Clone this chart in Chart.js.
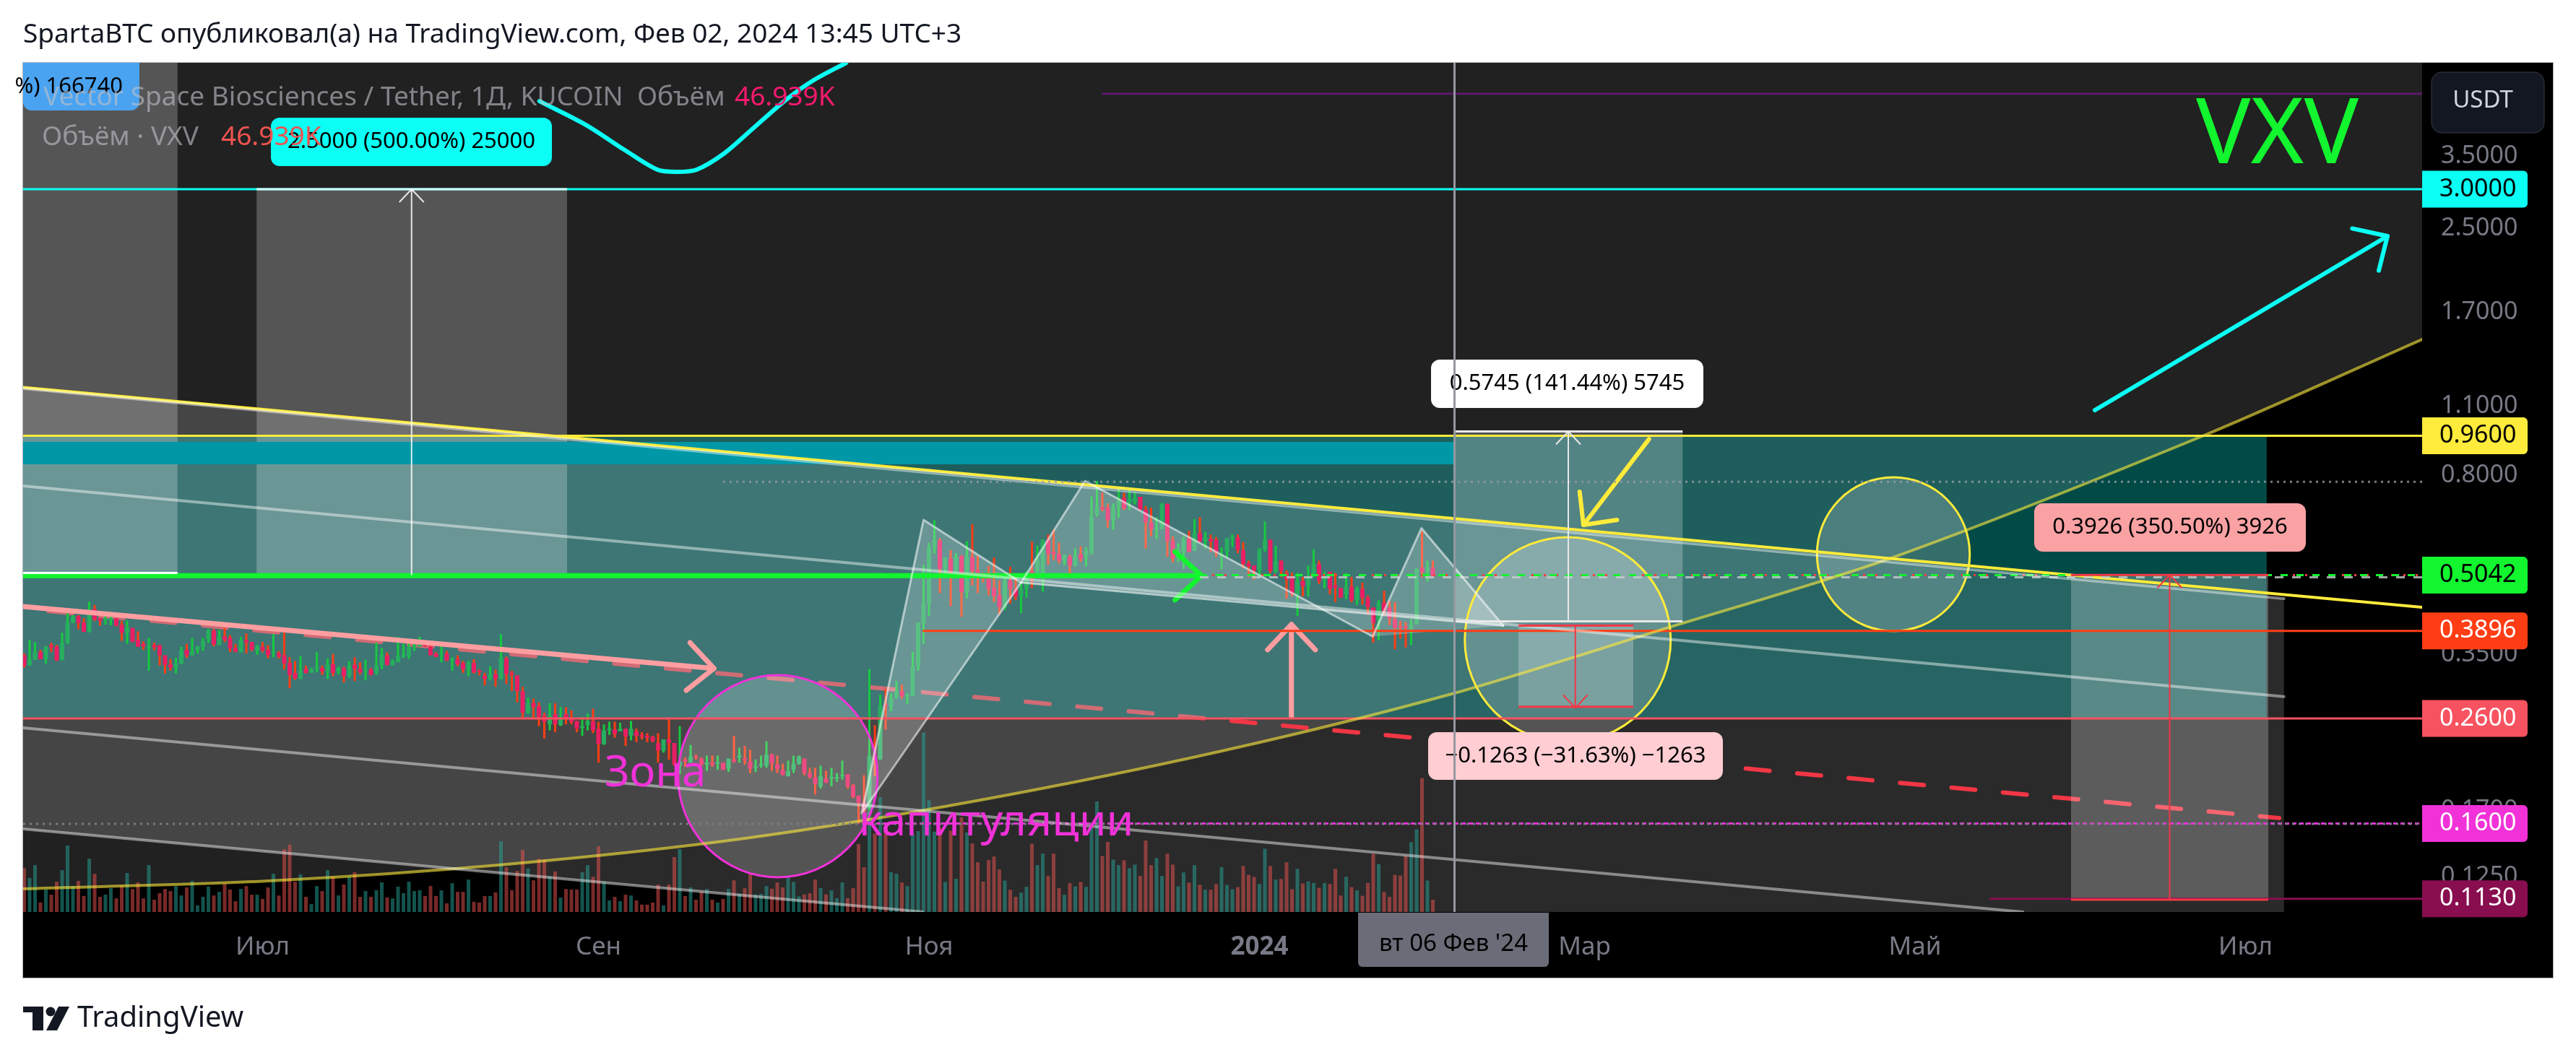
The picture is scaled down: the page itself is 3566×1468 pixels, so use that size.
<!DOCTYPE html>
<html>
<head>
<meta charset="utf-8">
<title>VXV</title>
<script src="https://cdn.jsdelivr.net/npm/chart.js@4"></script>
<style>
  html, body { margin: 0; padding: 0; background: #fff; }
  canvas { display: block; }
</style>
</head>
<body>
<canvas id="chart" width="3566" height="1468"></canvas>
<script>
// Candles, one per day, day 0 = 1 Jul 2023
var firstDay = -44;
var wickHigh = [
  .351,.374,.370,.357,.363,.369,.365,.386,.423,.419,.419,.413,.446,.439,.414,.419,.425,.414,.408,.409,.395,.389,.371,.377,.369,.365,.348,.342,.344,.362,.367,.377,.363,.377,.393,.393,.391,.395,.382,.367,.379,.385,.370,.365,.370,
  .365,.384,.355,.388,.345,.339,.347,.332,.328,.353,.332,.343,.350,.330,.330,.339,.345,.337,.341,.328,.369,.360,.353,.341,.379,.367,.369,.374,.379,.373,.365,.353,.369,.355,.345,.348,.339,.339,.342,.326,.321,.331,.326,.384,
  .346,.324,.317,.301,.286,.285,.280,.267,.279,.279,.274,.274,.270,.257,.262,.266,.272,.256,.253,.256,.256,.255,.248,.257,.248,.244,.243,.240,.243,.236,.259,.232,.251,.217,.230,.220,.217,.219,.219,.219,.212,.216,.240,.227,.229,
  .225,.215,.219,.234,.221,.219,.211,.214,.219,.219,.216,.207,.207,.209,.204,.207,.202,.214,.201,.192,.182,.200,.327,.252,.290,.298,.292,.309,.304,.292,.354,.405,.529,.585,.650,.598,.547,.566,.558,.553,.590,.638,.551,
  .510,.526,.547,.492,.497,.524,.509,.490,.513,.588,.578,.595,.608,.623,.586,.555,.554,.570,.576,.573,.725,.779,.738,.702,.702,.758,.738,.752,.738,.724,.694,.689,.659,.704,.701,.603,.584,.603,.619,.653,.659,.616,.608,.601,.573,
  .598,.608,.608,.587,.539,.527,.571,.646,.594,.577,.540,.515,.510,.509,.500,.527,.568,.539,.512,.512,.509,.475,.509,.500,.478,.487,.459,.434,.449,.469,.448,.445,.408,.406,.411,.521,.617,.539,.539
];
var bodyHigh = [
  .348,.341,.353,.353,.363,.365,.362,.369,.405,.417,.417,.405,.429,.431,.413,.413,.413,.413,.401,.395,.395,.374,.367,.364,.365,.365,.348,.334,.336,.357,.357,.354,.363,.372,.390,.390,.379,.380,.377,.360,.374,.373,.370,.362,.362,
  .357,.353,.352,.348,.336,.321,.324,.327,.327,.330,.328,.334,.334,.328,.328,.332,.333,.327,.325,.326,.332,.349,.348,.339,.347,.349,.362,.365,.369,.369,.362,.351,.351,.351,.342,.342,.336,.336,.336,.324,.317,.319,.319,.344,
  .343,.321,.317,.295,.279,.279,.275,.263,.263,.265,.262,.265,.260,.257,.251,.257,.257,.248,.246,.248,.247,.248,.248,.248,.245,.241,.240,.239,.232,.236,.236,.232,.213,.215,.218,.218,.216,.212,.212,.212,.212,.216,.215,.219,.216,
  .213,.208,.210,.220,.220,.210,.205,.204,.211,.218,.216,.202,.198,.199,.197,.198,.198,.200,.201,.191,.182,.176,.219,.218,.276,.277,.285,.295,.295,.289,.331,.405,.442,.573,.593,.592,.547,.544,.549,.551,.549,.548,.517,
  .505,.497,.475,.460,.490,.492,.472,.473,.510,.513,.544,.594,.594,.562,.556,.554,.549,.551,.555,.565,.661,.691,.691,.689,.691,.713,.720,.718,.720,.724,.682,.643,.627,.701,.701,.592,.567,.595,.597,.612,.612,.600,.596,.594,.550,
  .598,.603,.600,.566,.533,.527,.569,.594,.594,.538,.539,.509,.499,.491,.491,.500,.531,.530,.506,.512,.481,.475,.478,.478,.473,.473,.455,.434,.444,.444,.434,.411,.398,.398,.401,.519,.522,.522,.522
];
var bodyLow = [
  .332,.332,.341,.342,.342,.361,.340,.341,.369,.404,.404,.388,.389,.411,.408,.410,.410,.399,.386,.386,.370,.362,.363,.361,.361,.348,.333,.329,.329,.335,.348,.348,.356,.362,.375,.366,.365,.374,.359,.354,.353,.369,.357,.356,.356,
  .348,.351,.346,.335,.318,.313,.312,.321,.321,.327,.323,.323,.321,.323,.316,.316,.327,.322,.323,.318,.320,.332,.333,.333,.337,.345,.347,.362,.363,.363,.348,.346,.349,.340,.340,.334,.326,.326,.322,.322,.312,.312,.312,.312,
  .319,.318,.295,.267,.267,.274,.262,.256,.253,.253,.252,.260,.256,.248,.249,.252,.246,.231,.231,.246,.242,.245,.239,.240,.240,.239,.238,.234,.224,.224,.232,.210,.209,.213,.212,.217,.210,.210,.210,.211,.205,.206,.213,.217,.214,
  .206,.207,.209,.209,.211,.206,.200,.199,.205,.211,.202,.198,.192,.190,.193,.197,.197,.199,.190,.181,.176,.170,.171,.215,.215,.275,.275,.286,.288,.288,.288,.330,.403,.442,.575,.519,.518,.512,.512,.466,.466,.514,.508,
  .498,.473,.458,.435,.434,.473,.457,.457,.473,.495,.510,.506,.556,.555,.539,.539,.527,.527,.543,.549,.559,.668,.684,.650,.650,.691,.687,.705,.707,.682,.643,.623,.623,.623,.590,.545,.545,.561,.562,.564,.589,.589,.589,.561,.547,
  .562,.597,.566,.531,.525,.515,.515,.567,.514,.512,.514,.494,.463,.461,.479,.479,.502,.491,.491,.473,.476,.455,.461,.449,.449,.454,.435,.404,.409,.427,.413,.395,.396,.395,.391,.401,.512,.514,.502
];
var wickLow = [
  .329,.332,.341,.342,.335,.353,.339,.340,.367,.404,.393,.388,.387,.408,.399,.401,.400,.398,.372,.367,.370,.362,.357,.324,.356,.332,.320,.324,.320,.334,.344,.348,.351,.355,.369,.363,.365,.370,.353,.353,.353,.351,.355,.349,.353,
  .343,.345,.343,.326,.299,.311,.312,.320,.321,.322,.318,.312,.316,.319,.307,.314,.309,.319,.310,.317,.318,.327,.332,.332,.337,.344,.342,.355,.362,.362,.348,.345,.337,.339,.324,.331,.321,.316,.320,.317,.303,.310,.301,.311,
  .305,.295,.280,.261,.266,.260,.251,.237,.246,.244,.251,.253,.253,.244,.240,.246,.243,.212,.230,.241,.238,.245,.229,.235,.233,.236,.233,.233,.212,.222,.215,.209,.201,.208,.212,.215,.209,.204,.208,.205,.205,.203,.212,.212,.210,
  .202,.203,.207,.207,.204,.202,.200,.199,.202,.210,.200,.197,.183,.188,.193,.190,.194,.196,.188,.180,.160,.168,.170,.199,.215,.247,.269,.285,.285,.278,.288,.324,.367,.418,.557,.464,.509,.437,.509,.416,.453,.481,.464,
  .487,.459,.445,.420,.429,.442,.449,.423,.454,.475,.506,.467,.529,.540,.532,.528,.506,.525,.536,.525,.555,.661,.677,.628,.621,.657,.682,.681,.699,.681,.570,.603,.595,.623,.549,.535,.535,.519,.561,.564,.587,.570,.561,.549,.518,
  .546,.574,.558,.521,.500,.494,.502,.562,.509,.509,.500,.452,.457,.417,.457,.457,.499,.484,.474,.461,.445,.454,.451,.445,.440,.440,.420,.369,.373,.419,.400,.358,.376,.361,.365,.401,.499,.489,.500
];
// G = closed up, R = closed down
var candleSides =
  "RGGRGRRGGGRRGRRGGRRGRRRGRRRRGGRGGGGRGRRRGRRGR" +
  "RGRRRRGRGGRGRGRGRRGRGGRGGGGGGRRRGRGRRGRRRGRG" +
  "RRRRGRRRGRGRRRGGRRGGRGRGRRRRRGRRGRGRRGRGRGRGR" +
  "RGGGRRRGGGRRRGRGGGRRRRGRGRGGRGGGGGGRGRGRGRR" +
  "RRRRGRRGGRGGRRRGRGRGGGRRGGRGGRRRGGRRGGRGRGRRG" +
  "GGRRRRGGRGRRRGRGGRGRRRGRGRRRGRRRRRGGRGR";
// Volume in thousands
var volumes = [
  168,130,179,36,86,66,116,160,254,99,119,61,204,146,58,66,91,52,99,149,88,113,52,179,47,72,88,80,99,63,94,119,25,58,97,63,77,108,86,41,88,99,66,66,50,
  94,146,63,240,257,116,144,58,30,99,80,160,135,63,105,135,152,58,80,58,83,113,55,52,97,72,116,80,83,61,99,61,83,33,110,77,77,124,39,36,61,61,75,270,
  171,83,157,237,166,121,204,201,135,155,55,88,86,86,152,179,135,251,116,44,58,41,66,63,44,28,28,36,105,25,105,210,240,61,94,47,77,88,47,36,50,88,121,69,91,
  145,67,69,99,89,113,94,133,115,60,67,72,124,91,67,83,53,113,53,91,260,171,385,300,439,320,152,146,113,99,298,309,686,427,307,321,115,311,127,362,304,262,190,
  116,198,212,162,120,85,58,74,96,261,179,223,138,223,91,66,110,98,115,96,322,422,214,268,200,179,198,167,181,138,273,179,206,138,223,181,98,151,112,179,104,85,85,106,171,
  103,87,95,176,142,134,107,242,176,124,126,190,87,165,109,117,111,92,111,107,165,63,135,95,83,62,111,222,183,76,58,142,139,214,267,316,512,120,46.9
];

// Axes
var priceTicks = [3.5, 2.5, 1.7, 1.1, 0.8, 0.35, 0.17, 0.125];
var monthDays = [0, 62, 123, 184, 244, 305, 366];
var monthLabels = ["Июл", "Сен", "Ноя", "2024", "Мар", "Май", "Июл"];
var priceLevels = [3, 0.96, 0.5042, 0.3896, 0.26, 0.16, 0.113];
var priceLevelLabels = ["3.0000", "0.9600", "0.5042", "0.3896", "0.2600", "0.1600", "0.1130"];

// Drawn lines, [day...] and [price...]
var yellowTopDays = [-44.2, 398.6],   yellowTopPrices = [1.2005, 0.4347];
var channelTopDays = [-44.2, 373.1],  channelTopPrices = [1.1945, 0.4524];
var channelADays = [-44.2, 373.1],    channelAPrices = [0.7612, 0.2875];
var channelBDays = [-44.2, 324.9],    channelBPrices = [0.2490, 0.1063];
var channelCDays = [-44.2, 121.8],    channelCPrices = [0.1560, 0.1063];
var dashedDays = [-44.2, 372.2],      dashedPrices = [0.4317, 0.1641];
var curveDays = [-44.2, 1.1, 45.1, 89.1, 131.8, 177.1, 219.5, 258.2, 300.9, 358.2, 398.6];
var curvePrices = [0.1183, 0.1227, 0.1325, 0.1494, 0.1777, 0.2237, 0.2912, 0.3918, 0.5471, 0.96, 1.4988];
var brushDays = [51.1, 59.7, 66.9, 72.9, 76.5, 80.1, 85.1, 90.2, 96.3, 101.5, 107.7];
var brushPrices = [4.507, 4.037, 3.592, 3.283, 3.25, 3.283, 3.533, 3.944, 4.507, 4.949, 5.38];

// Head and shoulders points: X A B C D E F, and the foot under D
var patternDays = [110.6, 122, 140, 151.8, 204.9, 213.9, 229];
var patternPrices = [0.1679, 0.6507, 0.4872, 0.7793, 0.3797, 0.6264, 0.3991];
var patternFootPrice = 0.4246;

// Price range tools: left day, right day, top price, bottom price, arrow day
var rangeLeft = [-44.2, -1.1, 219.9, 231.8, 333.8];
var rangeRight = [-15.7, 56.2, 262.1, 253, 370.2];
var rangeTop = [5.38, 3, 0.9795, 0.3993, 0.5046];
var rangeBottom = [0.5068, 0.5042, 0.4052, 0.2730, 0.112];
var rangeArrow = [null, 27.5, 241, 242.3, 352];
var rangeLabels = ["%) 166740", "2.5000 (500.00%) 25000", "0.5745 (141.44%) 5745", "−0.1263 (−31.63%) −1263", "0.3926 (350.50%) 3926"];

// Ellipses: left day, right day, top price, bottom price
var ellipseLeft = [76.7, 221.9, 286.9];
var ellipseRight = [113.5, 259.9, 315.1];
var ellipseTop = [0.3176, 0.6007, 0.7924];
var ellipseBottom = [0.1248, 0.2329, 0.3893];

var crosshairDay = 220;
var fontName = '"Noto Sans"';

var candleDays = wickHigh.map(function (v, i) { return firstDay + i; });
var isUp = function (i) { return candleSides.charAt(i) === "G"; };

function barSet(yId, values, color, thickness, order) {
  return {
    type: "bar",
    data: values.map(function (v, i) { return { x: candleDays[i], y: v }; }),
    backgroundColor: candleDays.map(function (d, i) { return isUp(i) ? color[0] : color[1]; }),
    barThickness: thickness,
    grouped: false,
    borderWidth: 0,
    minBarLength: 2,
    inflateAmount: 0,
    order: order,
    yAxisID: yId
  };
}

function lineSet(days, prices, color, width, dash) {
  return {
    type: "line",
    data: days.map(function (d, i) { return { x: d, y: prices[i] }; }),
    borderColor: color,
    borderWidth: width,
    borderDash: dash || [],
    borderCapStyle: dash ? "butt" : "round",
    borderJoinStyle: "round",
    pointRadius: 0,
    tension: 0,
    order: 1,
    yAxisID: "y"
  };
}

function levelSet(fromDay, price, color, width, dash) {
  return lineSet([fromDay, 398.6], [price, price], color, width, dash);
}

var curveSet = lineSet(curveDays, curvePrices, "rgba(255,235,59,.6)", 4);
curveSet.tension = 0.3;

var datasets = [
  barSet("vol", volumes, ["rgba(38,166,154,.5)", "rgba(239,83,80,.5)"], 5, 5),
  barSet("y", wickHigh.map(function (v, i) { return [wickLow[i], v]; }), ["#17c93f", "#ff3d14"], 3, 4),
  barSet("y", bodyHigh.map(function (v, i) { return [bodyLow[i], v]; }), ["#27ae5f", "#e91e63"], 6, 3),

  // dotted levels
  lineSet([-44.2, 398.6], [0.1597, 0.1597], "#787b86", 3, [3, 6]),
  lineSet([85, 398.6], [0.7763, 0.7763], "rgba(150,155,165,.8)", 3, [3, 6]),
  lineSet([155, 398.6], [4.665, 4.665], "#5b1a6b", 3),

  // channel
  lineSet(channelTopDays, channelTopPrices, "rgba(255,255,255,.45)", 4),
  lineSet(channelADays, channelAPrices, "rgba(255,255,255,.45)", 4),
  lineSet(channelBDays, channelBPrices, "rgba(255,255,255,.45)", 4),
  lineSet(channelCDays, channelCPrices, "rgba(255,255,255,.45)", 4),
  curveSet,

  // head and shoulders edges
  lineSet([patternDays[0], patternDays[1], patternDays[2], patternDays[0]], [patternPrices[0], patternPrices[1], patternPrices[2], patternPrices[0]], "rgba(255,255,255,.55)", 3),
  lineSet(patternDays.slice(2), patternPrices.slice(2), "rgba(255,255,255,.55)", 3),
  lineSet([patternDays[2], patternDays[6]], [patternPrices[2], patternPrices[6]], "rgba(255,255,255,.6)", 3),

  // levels
  levelSet(-44.2, priceLevels[0], "#0cfff4", 3),
  levelSet(-44.2, priceLevels[1], "#ffeb3b", 3),
  lineSet([173, 398.6], [0.4992, 0.4992], "rgba(200,205,210,.8)", 3, [12, 12]),
  levelSet(173, priceLevels[2], "#12f52f", 3, [10, 12]),
  levelSet(173, priceLevels[2], "#ff3d3d", 3, [3, 14]),
  levelSet(122, priceLevels[3], "#ff3d14", 3),
  levelSet(-44.2, priceLevels[4], "#f7525f", 3),
  levelSet(110.6, priceLevels[5], "#f032d8", 3, [6, 4]),
  levelSet(318.9, priceLevels[6], "#880e4f", 3),
  lineSet(yellowTopDays, yellowTopPrices, "#ffeb3b", 4),

  // arrows
  lineSet([-44.2, 173.3], [0.503, 0.503], "#12f52f", 7),
  lineSet([168.4, 173.3, 168.4], [0.5619, 0.503, 0.4494], "#12f52f", 7),
  lineSet([-44.2, 83.3], [0.4362, 0.3276], "#ff9ea1", 7),
  lineSet([78.9, 83.3, 78.2], [0.369, 0.3276, 0.2961], "#ff9ea1", 7),
  lineSet([189.9, 189.9], [0.2629, 0.4014], "#ff9ea1", 7),
  lineSet([185.5, 189.9, 194.3], [0.357, 0.4014, 0.357], "#ff9ea1", 7),
  lineSet([255.9, 243.8], [0.9455, 0.6358], "#ffeb3b", 6),
  lineSet([243.1, 243.8, 250], [0.7413, 0.6358, 0.6507], "#ffeb3b", 6),
  lineSet([338.2, 392.2], [1.0807, 2.415], "#0cfff4", 6),
  lineSet([385.7, 392.2, 390.6], [2.502, 2.415, 2.06], "#0cfff4", 6),
  lineSet(brushDays, brushPrices, "#0cfff4", 6)
];
datasets[datasets.length - 1].tension = 0.3;

function pathPoints(ctx, pts) {
  ctx.beginPath();
  pts.forEach(function (p, i) { if (i === 0) ctx.moveTo(p[0], p[1]); else ctx.lineTo(p[0], p[1]); });
  ctx.closePath();
}

function px(chart, days, prices) {
  return days.map(function (d, i) {
    return [chart.scales.x.getPixelForValue(d), chart.scales.y.getPixelForValue(prices[i])];
  });
}

function text(ctx, str, x, y, size, color, align, weight) {
  ctx.font = (weight || "normal") + " " + size + "px " + fontName;
  ctx.fillStyle = color;
  ctx.textAlign = align || "left";
  ctx.textBaseline = "middle";
  ctx.fillText(str, x, y);
}

var chartLayers = {
  id: "chartLayers",

  beforeDraw: function (chart) {
    var ctx = chart.ctx;
    ctx.save();
    ctx.fillStyle = "#fff";
    ctx.fillRect(0, 0, chart.width, chart.height);
    ctx.fillStyle = "#000";
    ctx.fillRect(32, 87, 3502, 1267);
    ctx.fillStyle = "#b2b5be";
    ctx.fillRect(32, 86, 3502, 1);
    ctx.fillRect(31, 86, 1, 1268);
    ctx.fillRect(3534, 86, 1, 1268);
    ctx.fillRect(31, 1354, 3504, 1);
    ctx.restore();
  },

  // background regions go under volume and candles
  beforeDatasetsDraw: function (chart) {
    var ctx = chart.ctx, a = chart.chartArea, x = chart.scales.x, y = chart.scales.y;
    ctx.save();
    ctx.beginPath();
    ctx.rect(a.left, a.top, a.right - a.left, a.bottom - a.top);
    ctx.clip();

    // everything above the curve, following the curve's own bezier points
    var pts = chart.getDatasetMeta(datasets.indexOf(curveSet)).data;
    ctx.beginPath();
    ctx.moveTo(pts[0].x, pts[0].y);
    for (var k = 1; k < pts.length; k++) {
      ctx.bezierCurveTo(pts[k - 1].cp2x, pts[k - 1].cp2y, pts[k].cp1x, pts[k].cp1y, pts[k].x, pts[k].y);
    }
    ctx.lineTo(a.right, a.top);
    ctx.lineTo(a.left, a.top);
    ctx.closePath();
    ctx.fillStyle = "rgba(255,255,255,.13)";
    ctx.fill();

    var top = px(chart, channelTopDays, channelTopPrices);
    var low = px(chart, channelCDays, channelCPrices);
    pathPoints(ctx, [top[0], top[1], [top[1][0], a.bottom], low[1], low[0]]);
    ctx.fillStyle = "rgba(255,255,255,.165)";
    ctx.fill();

    // red dashes sit under the teal zone
    var dash = px(chart, dashedDays, dashedPrices);
    ctx.beginPath();
    ctx.moveTo(dash[0][0], dash[0][1]);
    ctx.lineTo(dash[1][0], dash[1][1]);
    ctx.setLineDash([33, 38.5]);
    ctx.lineDashOffset = 36;
    ctx.lineCap = "round";
    ctx.lineWidth = 6;
    ctx.strokeStyle = "#f23645";
    ctx.stroke();
    ctx.setLineDash([]);

    // teal zone
    var tx = a.left, ty = y.getPixelForValue(0.96);
    var tw = x.getPixelForValue(369.9) - tx, th = y.getPixelForValue(0.26) - ty;
    ctx.globalCompositeOperation = "multiply";
    ctx.fillStyle = "rgb(217,161,171)";
    ctx.fillRect(tx, ty, tw, th);
    ctx.globalCompositeOperation = "lighter";
    ctx.fillStyle = "rgb(2,74,70)";
    ctx.fillRect(tx, ty, tw, th);
    ctx.globalCompositeOperation = "source-over";
    ctx.restore();
  },

  // translucent shapes lie over the candles and under the lines
  afterDatasetDraw: function (chart, args) {
    if (args.index !== 2) return;
    var ctx = chart.ctx, a = chart.chartArea, x = chart.scales.x, y = chart.scales.y;
    var i;
    ctx.save();
    ctx.beginPath();
    ctx.rect(a.left, a.top, a.right - a.left, a.bottom - a.top);
    ctx.clip();

    ctx.fillStyle = "rgba(255,255,255,.234)";
    for (i = 0; i < rangeLeft.length; i++) {
      var x0 = x.getPixelForValue(rangeLeft[i]), x1 = x.getPixelForValue(rangeRight[i]);
      var y0 = y.getPixelForValue(rangeTop[i]), y1 = y.getPixelForValue(rangeBottom[i]);
      ctx.fillRect(x0, y0, x1 - x0, y1 - y0);
    }

    ctx.fillStyle = "#0097a7";
    ctx.fillRect(a.left, y.getPixelForValue(0.933), x.getPixelForValue(crosshairDay) - a.left, y.getPixelForValue(0.8414) - y.getPixelForValue(0.933));

    ctx.fillStyle = "rgba(255,255,255,.23)";
    var p = px(chart, patternDays, patternPrices);
    pathPoints(ctx, [p[0], p[1], p[2]]);
    ctx.fill();
    var foot = [p[4][0], y.getPixelForValue(patternFootPrice)];
    pathPoints(ctx, [p[2], p[3], p[4], foot]);
    ctx.fill();
    pathPoints(ctx, [p[4], p[5], p[6]]);
    ctx.fill();

    var ellipseColors = ["#f032d8", "#ffeb3b", "#ffeb3b"];
    for (i = 0; i < ellipseLeft.length; i++) {
      var ex0 = x.getPixelForValue(ellipseLeft[i]), ex1 = x.getPixelForValue(ellipseRight[i]);
      var ey0 = y.getPixelForValue(ellipseTop[i]), ey1 = y.getPixelForValue(ellipseBottom[i]);
      ctx.beginPath();
      ctx.ellipse((ex0 + ex1) / 2, (ey0 + ey1) / 2, (ex1 - ex0) / 2, (ey1 - ey0) / 2, 0, 0, Math.PI * 2);
      ctx.fillStyle = "rgba(255,255,255,.2)";
      ctx.fill();
      ctx.lineWidth = 3;
      ctx.strokeStyle = ellipseColors[i];
      ctx.stroke();
    }
    ctx.restore();
  },

  afterDatasetsDraw: function (chart) {
    var ctx = chart.ctx, a = chart.chartArea, x = chart.scales.x, y = chart.scales.y;
    var i;
    ctx.save();

    // range tool borders and arrows
    var edgeColors = ["#fff", "rgba(255,255,255,.85)", "#e8e8e8", "#f23645", "#f23645"];
    var drawBottom = [true, false, true, true, true];
    var drawTop = [false, true, true, true, true];
    var headDown = [false, false, false, true, false];
    for (i = 0; i < rangeLeft.length; i++) {
      var x0 = x.getPixelForValue(rangeLeft[i]), x1 = x.getPixelForValue(rangeRight[i]);
      var y0 = y.getPixelForValue(rangeTop[i]), y1 = y.getPixelForValue(rangeBottom[i]);
      ctx.fillStyle = edgeColors[i];
      if (drawTop[i]) ctx.fillRect(x0, y0 - 1.5, x1 - x0, 3);
      if (drawBottom[i]) ctx.fillRect(x0, y1 - 3, x1 - x0, 3);
      if (rangeArrow[i] !== null) {
        var ax = x.getPixelForValue(rangeArrow[i]);
        var tip = headDown[i] ? y1 : y0, dir = headDown[i] ? -1 : 1;
        ctx.strokeStyle = edgeColors[i];
        ctx.lineWidth = 2;
        ctx.beginPath();
        ctx.moveTo(ax, y0);
        ctx.lineTo(ax, y1);
        ctx.moveTo(ax - 17, tip + dir * 18);
        ctx.lineTo(ax, tip);
        ctx.lineTo(ax + 17, tip + dir * 18);
        ctx.stroke();
      }
    }

    // range tool labels
    var labelBoxes = [[32, 87, 161, 66], [375, 163, 389, 67], [1981, 498, 377, 67], [1977, 1014, 408, 66], [2816, 697, 376, 67]];
    var labelColors = ["#4aa3f0", "#0cfff4", "#ffffff", "#ffcdd2", "#faa1a4"];
    for (i = 0; i < labelBoxes.length; i++) {
      var b = labelBoxes[i];
      ctx.beginPath();
      ctx.roundRect(b[0], b[1], b[2], b[3], i === 0 ? [0, 0, 12, 12] : 12);
      ctx.fillStyle = labelColors[i];
      ctx.fill();
      if (i === 0) text(ctx, rangeLabels[i], 170, b[1] + 33, 31, "#000", "right");
      else text(ctx, rangeLabels[i], b[0] + b[2] / 2, b[1] + b[3] / 2, 31, "#000", "center");
    }

    // hand written notes
    text(ctx, "VXV", 3040, 190, 126, "#12f52f");
    text(ctx, "Зона", 837, 1072, 60, "#f032d8");
    text(ctx, "капитуляции", 1189, 1140, 61, "#f032d8");

    // crosshair and date pill
    var cx = x.getPixelForValue(crosshairDay);
    ctx.fillStyle = "#9598a1";
    ctx.fillRect(cx - 1.5, a.top, 3, a.bottom - a.top);
    ctx.beginPath();
    ctx.roundRect(1880, 1264, 264, 75, [0, 0, 6, 6]);
    ctx.fillStyle = "#6a6d78";
    ctx.fill();
    text(ctx, "вт 06 Фев '24", 2012, 1308, 33, "#000", "center");

    // price tags
    var tagColors = ["#0cfff4", "#ffeb3b", "#12f52f", "#ff3d14", "#f7525f", "#f032d8", "#880e4f"];
    var tagText = ["#000", "#000", "#000", "#fff", "#fff", "#fff", "#fff"];
    for (i = 0; i < priceLevels.length; i++) {
      var ty = y.getPixelForValue(priceLevels[i]);
      ctx.beginPath();
      ctx.roundRect(a.right, ty - 25.5, 146, 51, [0, 6, 6, 0]);
      ctx.fillStyle = tagColors[i];
      ctx.fill();
      text(ctx, priceLevelLabels[i], 3377, ty, 34, tagText[i]);
    }

    // currency button
    ctx.beginPath();
    ctx.roundRect(3366, 100, 156, 84, 14);
    ctx.fillStyle = "#131722";
    ctx.fill();
    ctx.lineWidth = 1;
    ctx.strokeStyle = "#363a45";
    ctx.stroke();
    text(ctx, "USDT", 3437, 140, 33, "#d1d4dc", "center");

    // legend
    var legendGray = "rgba(190,192,200,.62)";
    text(ctx, "Vector Space Biosciences / Tether, 1Д, KUCOIN  Объём", 60, 135, 37, legendGray);
    text(ctx, "46.939K", 1017, 135, 37, "#f7196f");
    text(ctx, "Объём · VXV", 58, 190, 37, legendGray);
    text(ctx, "46.939K", 306, 190, 37, "#ef5350");

    // page title and footer
    text(ctx, "SpartaBTC опубликовал(а) на TradingView.com, Фев 02, 2024 13:45 UTC+3", 32, 48, 37, "#131722");
    ctx.fillStyle = "#131722";
    ctx.fillRect(32, 1394, 28, 8);
    ctx.fillRect(45, 1394, 15, 33);
    ctx.beginPath();
    ctx.arc(70, 1401, 6.5, 0, Math.PI * 2);
    ctx.fill();
    pathPoints(ctx, [[81, 1394], [96, 1394], [79, 1427], [64, 1427]]);
    ctx.fill();
    text(ctx, "TradingView", 107, 1411, 40, "#131722");

    ctx.restore();
  }
};

new Chart(document.getElementById("chart").getContext("2d"), {
  type: "bar",
  data: { datasets: datasets },
  plugins: [chartLayers],
  options: {
    responsive: false,
    devicePixelRatio: 1,
    animation: false,
    events: [],
    layout: { padding: { left: 32, top: 87, right: 32, bottom: 114 } },
    plugins: { legend: { display: false }, tooltip: { enabled: false }, title: { display: false } },
    scales: {
      x: {
        type: "linear",
        offset: false,
        min: -44.2,
        max: 398.6,
        grid: { display: false },
        border: { display: false },
        afterBuildTicks: function (scale) {
          scale.ticks = monthDays.map(function (d) { return { value: d }; });
        },
        afterFit: function (scale) { scale.height = 91; },
        ticks: {
          autoSkip: false,
          maxRotation: 0,
          padding: 20,
          color: "#787b86",
          font: function (c) { return { family: "Noto Sans", size: 35, weight: c.index === 3 ? "bold" : "normal" }; },
          callback: function (v, i) { return monthLabels[i]; }
        }
      },
      y: {
        type: "logarithmic",
        position: "right",
        min: 0.1063,
        max: 5.38,
        bounds: "data",
        grid: { display: false },
        border: { display: false },
        afterBuildTicks: function (scale) {
          scale.ticks = priceTicks.map(function (v) { return { value: v }; });
        },
        afterFit: function (scale) { scale.width = 181; },
        ticks: {
          autoSkip: false,
          padding: 18,
          color: "#787b86",
          font: { family: "Noto Sans", size: 34 },
          callback: function (v) { return Number(v).toFixed(4); }
        }
      },
      vol: {
        type: "linear",
        display: false,
        min: 0,
        max: 3246
      }
    }
  }
});
</script>
</body>
</html>
